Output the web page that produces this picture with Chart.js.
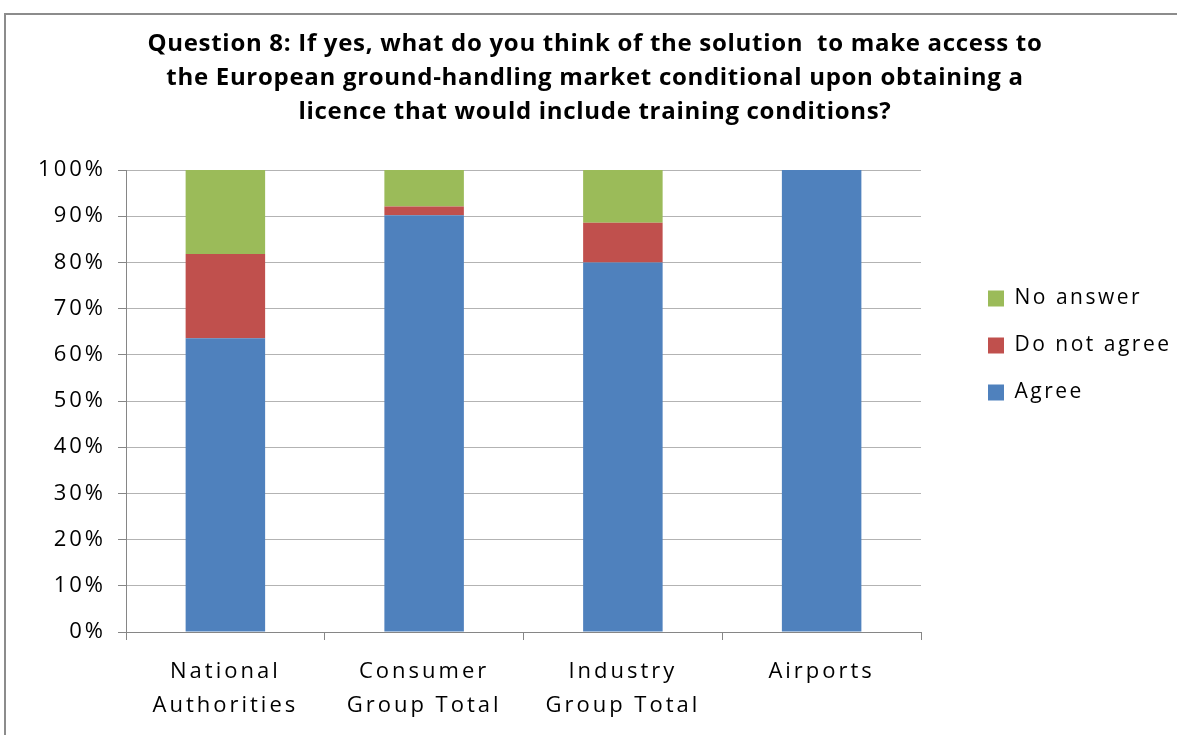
<!DOCTYPE html>
<html lang="en">
<head>
    <meta charset="utf-8" />
    <title>Question 8</title>
    <script src="https://cdn.jsdelivr.net/npm/chart.js@4.4.1/dist/chart.umd.min.js"></script>
    <style>
        body { margin: 0; background: #fff; }
        .frame { position: absolute; left: 4px; top: 13px; width: 1200px; height: 760px;
                 border-left: 2px solid #8c8c8c; border-top: 2px solid #8c8c8c; }
        #q8Chart { position: absolute; left: 0; top: 0; }
    </style>
</head>

<body>
    <div class="frame"></div>
    <canvas id="q8Chart" width="1177" height="735"></canvas>

    <script>
        const categories = [['National', 'Authorities'], ['Consumer', 'Group Total'], ['Industry', 'Group Total'], 'Airports'];
        const agree = [63.6, 90.2, 80.0, 100];
        const doNotAgree = [18.2, 1.9, 8.6, 0];
        const noAnswer = [18.2, 7.9, 11.4, 0];
        const yTicks = [0, 10, 20, 30, 40, 50, 60, 70, 80, 90, 100];

        const titleLines = [
            'Question 8: If yes, what do you think of the solution  to make access to',
            'the European ground-handling market conditional upon obtaining a',
            'licence that would include training conditions?'
        ];

        const FONT = "'Open Sans', 'Liberation Sans', sans-serif";

        // draw a layout box with its own letter spacing
        function spaced(box, spacing) {
            if (!box || box._ownSpacing) return;
            const draw = box.draw;
            box.draw = function () {
                const prev = this.ctx.letterSpacing;
                this.ctx.letterSpacing = spacing;
                draw.apply(this, arguments);
                this.ctx.letterSpacing = prev;
            };
            box._ownSpacing = true;
        }

        // wide letter spacing for axis text, title and legend get their own
        const letterSpacing = {
            id: 'letterSpacing',
            beforeDraw(chart) {
                spaced(chart.titleBlock, '0.7px');
                spaced(chart.legend, '2.5px');
                chart.ctx.letterSpacing = '3px';
            },
            afterDraw(chart) {
                chart.ctx.letterSpacing = '0px';
            }
        };

        // legend column: fixed width on the right, items pushed in and down a bit
        const legendPlace = {
            id: 'legendPlace',
            beforeUpdate(chart) {
                const lg = chart.legend;
                if (lg && !lg._fixedWidth) {
                    const fit = lg.fit;
                    lg.fit = function () {
                        fit.call(this);
                        this.width = 256;
                    };
                    lg._fixedWidth = true;
                }
            },
            afterLayout(chart) {
                const lg = chart.legend;
                lg.left += 41;
                lg.right += 41;
                lg.top += 92;
                lg.bottom += 92;
            }
        };

        const ctx = document.getElementById('q8Chart').getContext('2d');
        const q8Chart = new Chart(ctx, {
            type: 'bar',
            data: {
                labels: categories,
                datasets: [
                    { label: 'Agree', data: agree, backgroundColor: '#4F81BD' },
                    { label: 'Do not agree', data: doNotAgree, backgroundColor: '#C0504D' },
                    { label: 'No answer', data: noAnswer, backgroundColor: '#9BBB59' }
                ]
            },
            options: {
                responsive: false,
                animation: false,
                devicePixelRatio: 1,
                categoryPercentage: 1,
                barPercentage: 0.4,
                layout: { padding: { left: 13, right: 0, top: 0, bottom: 12 } },
                plugins: {
                    title: {
                        display: true,
                        text: titleLines,
                        color: '#000',
                        font: { family: FONT, size: 24, weight: 'bold', lineHeight: 34 / 24 },
                        padding: { top: 27, bottom: 41 }
                    },
                    legend: {
                        position: 'right',
                        align: 'start',
                        fullSize: false,
                        reverse: true,
                        labels: {
                            color: '#000',
                            font: { family: FONT, size: 21 },
                            boxWidth: 16,
                            boxHeight: 16,
                            padding: 26
                        }
                    },
                    tooltip: { enabled: false }
                },
                scales: {
                    x: {
                        stacked: true,
                        afterFit(scale) { scale.height = 91; },
                        grid: {
                            offset: true,
                            drawOnChartArea: false,
                            drawTicks: true,
                            tickLength: 8,
                            color: '#868686'
                        },
                        border: { color: '#868686' },
                        ticks: {
                            color: '#000',
                            font: { family: FONT, size: 22, lineHeight: 34 / 22 },
                            padding: 15,
                            maxRotation: 0
                        }
                    },
                    y: {
                        stacked: true,
                        min: 0,
                        max: 100,
                        afterFit(scale) { scale.width = 113; },
                        afterBuildTicks(scale) { scale.ticks = yTicks.map(v => ({ value: v })); },
                        grid: { color: '#b3b3b3', tickLength: 8, tickColor: '#868686' },
                        border: { color: '#868686' },
                        ticks: {
                            color: '#000',
                            font: { family: FONT, size: 22 },
                            padding: 12,
                            callback: v => v + '%'
                        }
                    }
                }
            },
            plugins: [letterSpacing, legendPlace]
        });
    </script>
</body>

</html>
